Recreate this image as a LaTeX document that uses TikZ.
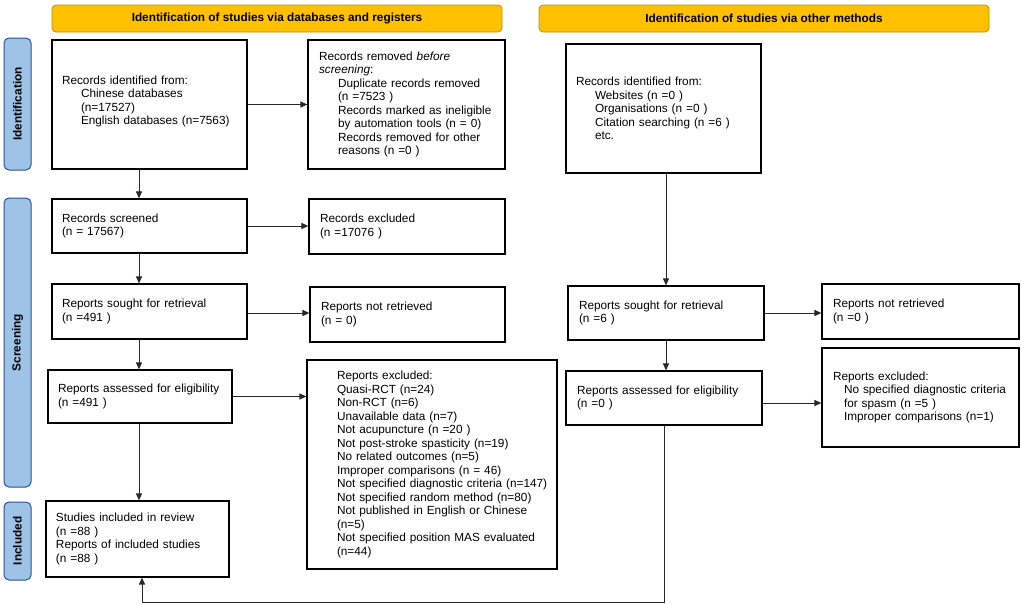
\documentclass[tikz,border=0pt]{standalone}
\usepackage{fontspec}
\setmainfont{Liberation Sans}
\usetikzlibrary{arrows.meta,calc}
\definecolor{hdrfill}{RGB}{255,192,0}
\definecolor{hdrdraw}{RGB}{191,144,0}
\definecolor{sidefill}{RGB}{157,195,230}
\definecolor{sidedraw}{RGB}{47,82,143}
\definecolor{linecol}{RGB}{40,40,40}
\newcommand{\ind}{\hspace*{19pt}}
\newcommand{\indn}{\hspace*{11pt}}
\newcommand{\indh}{\hspace*{25pt}}
\newcommand{\flowbox}[7]{%
  \pgfmathsetmacro{\bw}{#4-#2}%
  \pgfmathsetmacro{\bh}{#5-#3}%
  \pgfmathsetmacro{\tw}{#4-#2-2*#6}%
  \node[box, minimum width=\bw pt, minimum height=\bh pt, text width=\tw pt, inner xsep=#6 pt] (#1) at ({(#2+#4)/2},{(#3+#5)/2}) {#7};}
\newcommand{\hdr}[6]{%
  \pgfmathsetmacro{\bw}{#4-#2}%
  \pgfmathsetmacro{\bh}{#5-#3}%
  \node[header, minimum width=\bw pt, minimum height=\bh pt] (#1) at ({(#2+#4)/2},{(#3+#5)/2}) {#6};}
\newcommand{\side}[6]{%
  \pgfmathsetmacro{\bw}{#4-#2}%
  \pgfmathsetmacro{\bh}{#5-#3}%
  \node[sidebar, minimum width=\bh pt, minimum height=\bw pt] (#1) at ({(#2+#4)/2},{(#3+#5)/2}) {#6};}
\begin{document}
\begin{tikzpicture}[x=1pt,y=-1pt,
  every node/.style={font=\fontsize{11.8}{13.5}\selectfont},
  box/.style={draw=black, line width=1.2pt, align=left, inner ysep=2pt, fill=white},
  header/.style={draw=hdrdraw, fill=hdrfill, line width=0.8pt, rounded corners=4pt, inner sep=0pt, font=\fontsize{11.8}{13.5}\selectfont\bfseries},
  sidebar/.style={draw=sidedraw, fill=sidefill, line width=1pt, rounded corners=5pt, inner sep=0pt, rotate=90, font=\fontsize{11.8}{13.5}\selectfont\bfseries},
  arr/.style={draw=linecol, line width=1pt, -{Triangle[length=7pt,width=6pt]}},
  ln/.style={draw=linecol, line width=1pt}]
\useasboundingbox (0,0) rectangle (1021,605);
\fill[white] (0,0) rectangle (1021,605);

% headers
\hdr{h1}{52}{5}{502}{32}{Identification of studies via databases and registers}
\hdr{h2}{539}{5}{989}{32}{Identification of studies via other methods}

% side bars
\side{s1}{4}{38}{31}{170}{Identification}
\side{s2}{4}{198}{31}{487}{Screening}
\side{s3}{4}{502}{31}{580}{Included}

% left column
\flowbox{A}{52}{40}{247}{169}{10}{Records identified from:\\\ind Chinese databases\\\ind (n=17527)\\\ind English databases (n=7563)\rule[-8.5pt]{0pt}{8.5pt}}
\flowbox{B}{308}{40}{505}{169}{11}{Records removed \textit{before}\\\textit{screening}:\\\ind Duplicate records removed\\\ind (n =7523 )\\\ind Records marked as ineligible\\\ind by automation tools (n = 0)\\\ind Records removed for other\\\ind reasons (n =0 )}
\flowbox{C}{52}{199}{247}{253}{10}{Records screened\\(n = 17567)}
\flowbox{D}{309}{199}{505}{254}{11}{Records excluded\\(n =17076 )}
\flowbox{E}{52}{284}{247}{339}{10}{Reports sought for retrieval\\(n =491 )}
\flowbox{F}{310}{287}{505}{342}{11}{Reports not retrieved\\(n = 0)}
\flowbox{G}{48}{370}{232}{423}{10}{Reports assessed for eligibility\\(n =491 )}
\flowbox{H}{307}{360}{557}{569}{5}{\indh Reports excluded:\\\indh Quasi-RCT (n=24)\\\indh Non-RCT (n=6)\\\indh Unavailable data (n=7)\\\indh Not acupuncture (n =20 )\\\indh Not post-stroke spasticity (n=19)\\\indh No related outcomes (n=5)\\\indh Improper comparisons (n = 46)\\\indh Not specified diagnostic criteria (n=147)\\\indh Not specified random method (n=80)\\\indh Not published in English or Chinese\\\indh (n=5)\\\indh Not specified position MAS evaluated\\\indh (n=44)}
\flowbox{I}{46}{501}{229}{577}{10}{Studies included in review\\(n =88 )\\Reports of included studies\\(n =88 )}

% right column
\flowbox{J}{566}{44}{761}{173}{10}{Records identified from:\\\ind Websites (n =0 )\\\ind Organisations (n =0 )\\\ind Citation searching (n =6 )\\\ind etc.}
\flowbox{K}{568}{286}{764}{340}{11}{Reports sought for retrieval\\(n =6 )}
\flowbox{L}{822}{284}{1019}{339}{11}{Reports not retrieved\\(n =0 )}
\flowbox{M}{566}{371}{762}{425}{11}{Reports assessed for eligibility\\(n =0 )}
\flowbox{N}{822}{348}{1019}{447}{11}{Reports excluded:\\\indn No specified diagnostic criteria\\\indn for spasm (n =5 )\\\indn Improper comparisons (n=1)}

% helper coordinates
\coordinate (ax) at (139,0);
\coordinate (ix) at (142,0);
\coordinate (bot) at (0,602);
\coordinate (ey) at (0,313);
\coordinate (my) at (0,403);

% connectors left
\draw[arr] (A.south -| ax) -- (C.north -| ax);
\draw[arr] (A.east) -- (A.east -| B.west);
\draw[arr] (C.east) -- (C.east -| D.west);
\draw[arr] (C.south -| ax) -- (E.north -| ax);
\draw[arr] (E.east |- ey) -- (F.west |- ey);
\draw[arr] (E.south -| ax) -- (G.north -| ax);
\draw[arr] (G.east) -- (G.east -| H.west);
\draw[arr] (G.south -| ax) -- (I.north -| ax);

% connectors right
\draw[arr] (J.south -| K.north) -- (K.north);
\draw[arr] (K.east) -- (K.east -| L.west);
\draw[arr] (K.south) -- (K.south |- M.north);
\draw[arr] (M.east |- my) -- (N.west |- my);
\draw[arr] (M.south) -- (M.south |- bot) -- (bot -| ix) -- (I.south -| ix);
\end{tikzpicture}
\end{document}
